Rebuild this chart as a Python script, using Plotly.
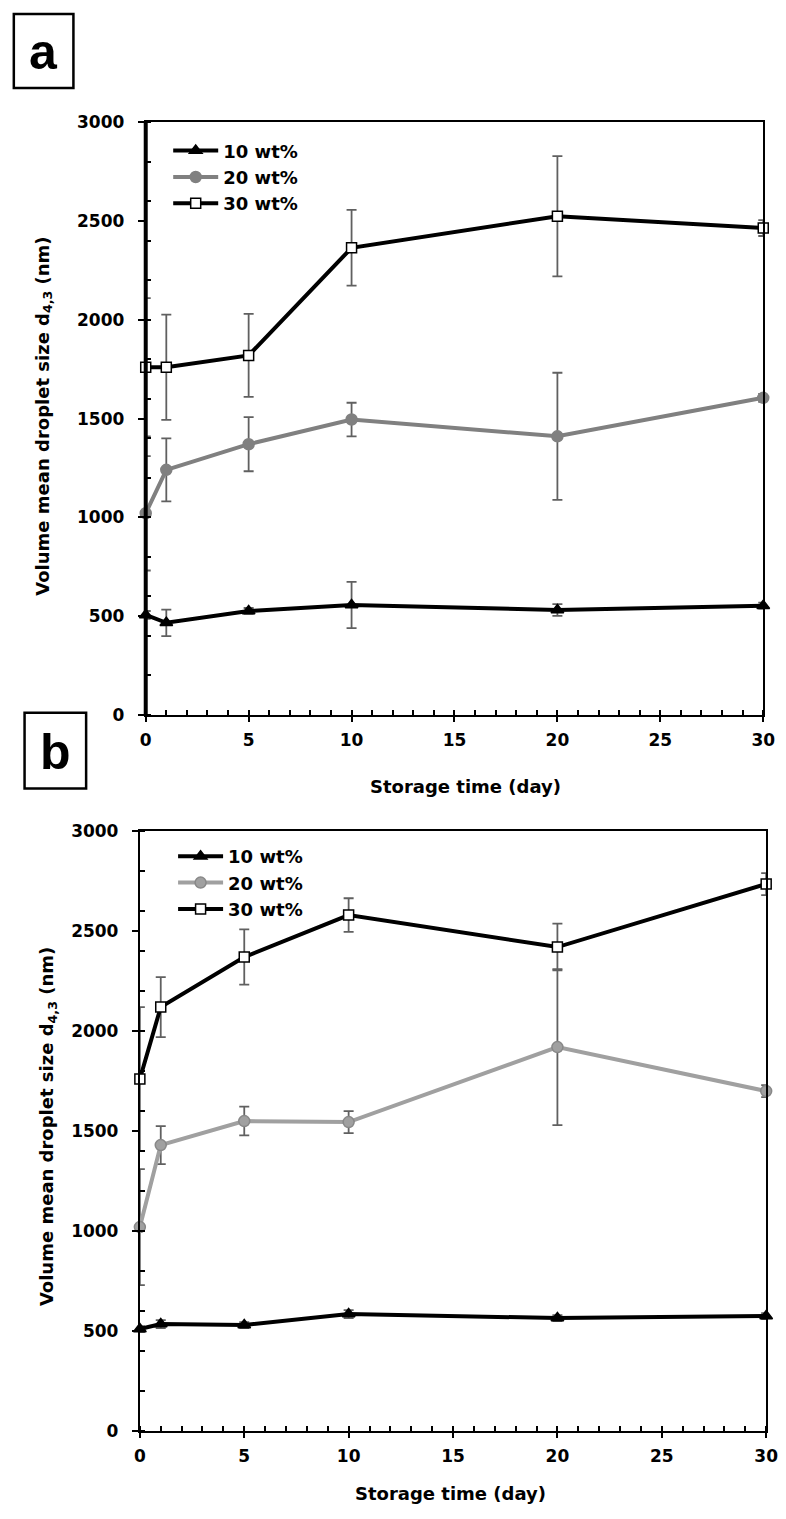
import plotly.graph_objects as go

days = [0, 1, 5, 10, 20, 30]
labels = ["10 wt%", "20 wt%", "30 wt%"]

# Panel a
a_10 = [505, 465, 525, 555, 530, 552]
a_10_err = [20, 67, 15, 117, 30, 15]
a_20 = [1020, 1240, 1370, 1495, 1410, 1605]
a_20_err = [290, 160, 137, 85, 322, 20]
a_30 = [1760, 1760, 1820, 2365, 2525, 2465]
a_30_err = [350, 267, 210, 192, 305, 40]

# Panel b
b_10 = [510, 535, 530, 585, 565, 575]
b_10_err = [15, 20, 15, 20, 15, 15]
b_20 = [1020, 1430, 1550, 1545, 1920, 1700]
b_20_err = [290, 95, 72, 55, 390, 30]
b_30 = [1760, 2120, 2370, 2580, 2420, 2735]
b_30_err = [360, 150, 138, 84, 117, 55]

W, H = 786, 1519
FONT = "DejaVu Sans, Liberation Sans, Arial, sans-serif"
LFONT = "Liberation Sans, Arial, sans-serif"

def px(x):
    return x / W

def py(y):
    return 1 - y / H

fig = go.Figure()

err_color = "#606060"

def add_series(xa, ya, legend, y, e, name, color, symbol, mcolor, mline, lw, msize):
    fig.add_trace(go.Scatter(
        x=days, y=y, name=name, mode="lines+markers",
        xaxis=xa, yaxis=ya, legend=legend,
        line=dict(color=color, width=lw),
        marker=dict(symbol=symbol, size=msize, color=mcolor,
                    line=dict(color=mline, width=1.5)),
        error_y=dict(type="data", array=e, visible=True, color=err_color,
                     thickness=1.8, width=5),
        cliponaxis=False, showlegend=True,
    ))

add_series("x", "y", "legend", a_10, a_10_err, labels[0], "black", "triangle-up", "black", "black", 4, 11)
add_series("x", "y", "legend", a_20, a_20_err, labels[1], "#808080", "circle", "#808080", "#808080", 4, 11)
add_series("x", "y", "legend", a_30, a_30_err, labels[2], "black", "square", "white", "black", 4, 10)

add_series("x2", "y2", "legend2", b_10, b_10_err, labels[0], "black", "triangle-up", "black", "black", 4, 11)
add_series("x2", "y2", "legend2", b_20, b_20_err, labels[1], "#a0a0a0", "circle", "#a0a0a0", "#888888", 4, 11)
add_series("x2", "y2", "legend2", b_30, b_30_err, labels[2], "black", "square", "white", "black", 4, 10)

tickfont = dict(family=FONT, size=17, color="black", weight="bold")

def xaxis(domain, anchor):
    return dict(domain=domain, anchor=anchor, range=[0, 30], dtick=5, tick0=0,
                showgrid=False, zeroline=False, showline=True, mirror=True,
                linecolor="black", linewidth=2, ticks="outside", ticklen=5,
                tickwidth=2, tickcolor="black", tickfont=tickfont,
                ticklabelstandoff=4, ticklabeloverflow="allow",
                minor=dict(dtick=1, ticks="inside", ticklen=5, tickwidth=1.5,
                           tickcolor="black", showgrid=False))

def yaxis(domain, anchor):
    return dict(domain=domain, anchor=anchor, range=[0, 3000], dtick=500, tick0=0,
                showgrid=False, zeroline=False, showline=True, mirror=True,
                linecolor="black", linewidth=2, ticks="outside", ticklen=6,
                tickwidth=2, tickcolor="black", tickfont=tickfont,
                ticklabelstandoff=10, ticklabeloverflow="allow",
                minor=dict(dtick=200, ticks="inside", ticklen=5, tickwidth=1.5,
                           tickcolor="black", showgrid=False))

legfont = dict(family=FONT, size=18, color="black", weight="bold")

fig.update_layout(
    width=W, height=H,
    margin=dict(l=0, r=0, t=0, b=0),
    paper_bgcolor="white", plot_bgcolor="white",
    xaxis=xaxis([px(143), px(775)], "y"),
    yaxis=yaxis([py(714), py(114)], "x"),
    xaxis2=xaxis([px(137), px(778)], "y2"),
    yaxis2=yaxis([py(1440), py(832)], "x2"),
    legend=dict(x=px(166), y=py(124), xanchor="left", yanchor="top",
                bgcolor="rgba(0,0,0,0)", font=legfont, itemwidth=45,
                tracegroupgap=0),
    legend2=dict(x=px(171), y=py(839), xanchor="left", yanchor="top",
                 bgcolor="rgba(0,0,0,0)", font=legfont, itemwidth=45,
                 tracegroupgap=0),
    showlegend=True,
)

# thick left spine of panel a
fig.add_shape(type="line", xref="x domain", yref="y domain", x0=0, x1=0, y0=0, y1=1,
              line=dict(color="black", width=4))

# panel letter boxes
fig.add_shape(type="rect", xref="paper", yref="paper", x0=px(8), x1=px(69), y0=py(79), y1=py(4),
              line=dict(color="black", width=2.5), fillcolor="white")
fig.add_shape(type="rect", xref="paper", yref="paper", x0=px(19), x1=px(82), y0=py(789), y1=py(712),
              line=dict(color="black", width=2.5), fillcolor="white")

def note(text, x, y, font, angle=0):
    return dict(text=text, x=px(x), y=py(y), xref="paper", yref="paper", showarrow=False,
                xanchor="center", yanchor="middle", textangle=angle, font=font)

letterfont = dict(family=LFONT, size=50, color="black", weight="bold")
titlefont = dict(family=FONT, size=18, color="black", weight="bold")
ytitle = "Volume mean droplet size d<sub>4,3</sub> (nm)"

ann = [
    note("a", 38, 43, letterfont),
    note("b", 51, 752, letterfont),
    note(ytitle, 38, 412, titlefont, -90),
    note(ytitle, 43, 1132, titlefont, -90),
    note("Storage time (day)", 470, 787, titlefont),
    note("Storage time (day)", 455, 1503, titlefont),
]
fig.update_layout(annotations=ann)

fig.write_html("out.html", config={"displayModeBar": False},
               post_script="document.body.style.margin='0';")
